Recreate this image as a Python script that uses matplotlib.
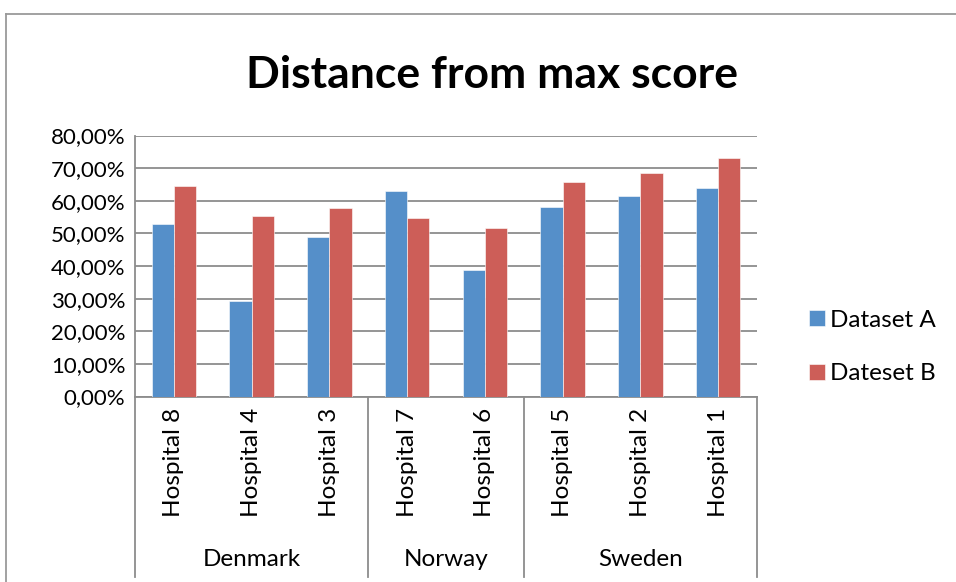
import matplotlib
matplotlib.use("Agg")
import matplotlib.pyplot as plt
import matplotlib.transforms as mtransforms
from matplotlib.lines import Line2D
from matplotlib.ticker import FuncFormatter
import numpy as np

hospitals = ["Hospital 8", "Hospital 4", "Hospital 3", "Hospital 7", "Hospital 6",
             "Hospital 5", "Hospital 2", "Hospital 1"]
countries = ["Denmark", "Norway", "Sweden"]
country_sizes = [3, 2, 3]
dataset_a = [0.530, 0.292, 0.490, 0.631, 0.389, 0.582, 0.615, 0.638]
dataset_b = [0.644, 0.552, 0.578, 0.548, 0.517, 0.658, 0.685, 0.730]
series_names = ["Dataset A", "Dateset B"]

BLUE = "#558FC9"
RED = "#CD5E58"
GRID = "#8C8C8C"
FONT = ["Lato", "DejaVu Sans"]

plt.rcParams["font.family"] = FONT

W, H = 956, 582
fig = plt.figure(figsize=(W / 100, H / 100), dpi=100)

# plot area in pixels: x 135..757, y 135.5 (80%) .. 396.5 (0%)
left, right, top, bottom = 135, 757, 135.5, 396.5
ax = fig.add_axes([left / W, 1 - bottom / H, (right - left) / W, (bottom - top) / H])

x = np.arange(len(hospitals))
bw = 0.285
ax.bar(x - bw / 2, dataset_a, bw, color=BLUE, edgecolor="white", linewidth=0.4,
       label=series_names[0], zorder=3)
ax.bar(x + bw / 2, dataset_b, bw, color=RED, edgecolor="white", linewidth=0.4,
       label=series_names[1], zorder=3)

ax.set_xlim(-0.5, len(hospitals) - 0.5)
ax.set_ylim(0, 0.8)
ax.set_yticks(np.arange(0, 0.81, 0.1))
ax.yaxis.set_major_formatter(FuncFormatter(lambda v, p: f"{v * 100:.2f}%".replace(".", ",")))
ax.grid(axis="y", color=GRID, linewidth=1.3, zorder=0)
for s in ["top", "right"]:
    ax.spines[s].set_visible(False)
for s in ["left", "bottom"]:
    ax.spines[s].set_color(GRID)
    ax.spines[s].set_linewidth(1.3)
ax.tick_params(axis="y", length=0, pad=7, labelsize=16)
ax.set_xticks(x)
ax.set_xticklabels(hospitals, rotation=90, fontsize=17.5, va="top")
ax.tick_params(axis="x", length=0, pad=8)

# category group boundaries and labels
trans = mtransforms.blended_transform_factory(ax.transData, ax.transAxes)
depth = (577 - bottom) / (bottom - top)
edges = np.concatenate([[0], np.cumsum(country_sizes)]) - 0.5
for e in edges:
    ax.add_line(Line2D([e, e], [0, -depth], transform=trans, color=GRID,
                       linewidth=1.3, clip_on=False))
label_y = -(559 - bottom) / (bottom - top)
for name, a, b in zip(countries, edges[:-1], edges[1:]):
    ax.text((a + b) / 2, label_y, name, transform=trans, ha="center", va="center",
            fontsize=17.5)

# chart frame
fig.add_artist(Line2D([6 / W, 6 / W], [0, 1 - 14 / H], color="#9A9A9A", linewidth=1.3))
fig.add_artist(Line2D([6 / W, 1], [1 - 14 / H, 1 - 14 / H], color="#9A9A9A", linewidth=1.3))

fig.text(492 / W, 1 - 75 / H, "Distance from max score", ha="center", va="center",
         fontsize=32, fontweight="bold")

ax.legend(loc="center left", bbox_to_anchor=(787 / W, 1 - 347 / H),
          bbox_transform=fig.transFigure, frameon=False, fontsize=17.5,
          handlelength=0.65, handleheight=0.65, handletextpad=0.2, labelspacing=1.35)

fig.savefig("out.png", dpi=100)
